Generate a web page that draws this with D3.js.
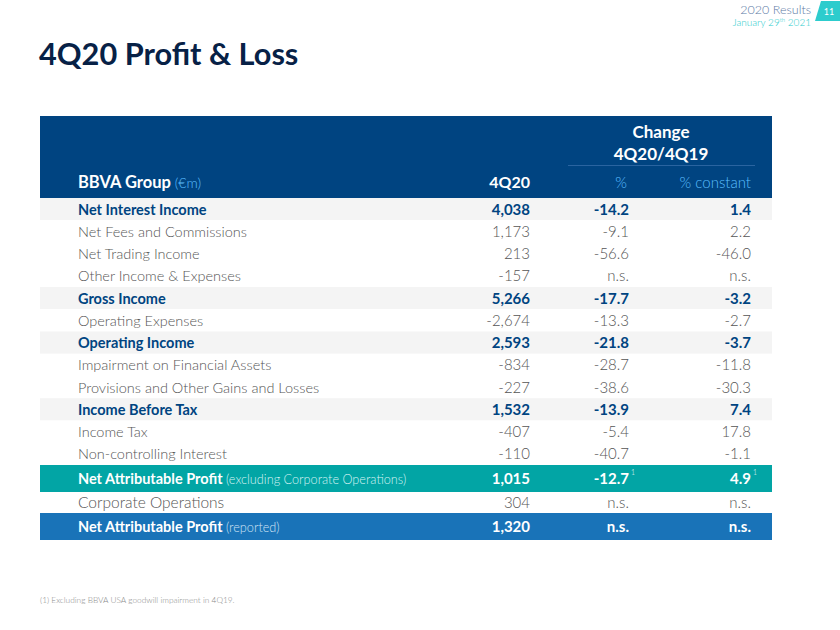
<!DOCTYPE html>
<html><head><meta charset="utf-8">
<script src="https://cdn.jsdelivr.net/npm/d3@7"></script>
<style>
html,body{margin:0;padding:0;background:#fff;}
svg{display:block;font-family:Lato,"Open Sans",sans-serif;}
</style></head>
<body>
<svg id="chart" width="840" height="630"></svg>
<script>
const rowLabels = ["Net Interest Income","Net Fees and Commissions","Net Trading Income","Other Income & Expenses","Gross Income","Operating Expenses","Operating Income","Impairment on Financial Assets","Provisions and Other Gains and Losses","Income Before Tax","Income Tax","Non-controlling Interest","Net Attributable Profit","Corporate Operations","Net Attributable Profit"];
const rowNotes = ["","","","","","","","","","","","","(excluding Corporate Operations)","","(reported)"];
const values4Q20 = ["4,038","1,173","213","-157","5,266","-2,674","2,593","-834","-227","1,532","-407","-110","1,015","304","1,320"];
const pctChange = ["-14.2","-9.1","-56.6","n.s.","-17.7","-13.3","-21.8","-28.7","-38.6","-13.9","-5.4","-40.7","-12.7","n.s.","n.s."];
const pctConstant = ["1.4","2.2","-46.0","n.s.","-3.2","-2.7","-3.7","-11.8","-30.3","7.4","17.8","-1.1","4.9","n.s.","n.s."];
const rowTypes = ["key","plain","plain","plain","key","plain","key","plain","plain","key","plain","plain","teal","plain","blue"];
const footnoteMarks = ["","","","","","","","","","","","","1","",""];
const columnHeaders = ["4Q20","%","% constant"];

const svg = d3.select("#chart");
const navy = "#004481", teal = "#02A5A5", blue = "#1973B8";

// header strip top-right
svg.append("text").attr("x",811).attr("y",14).attr("text-anchor","end")
  .attr("font-size",12.5).attr("fill","#5c7aa5").attr("font-weight",300).text("2020 Results");
const jt = svg.append("text").attr("x",811).attr("y",26).attr("text-anchor","end")
  .attr("font-size",10).attr("fill","#2dcccd").attr("font-weight",300);
jt.append("tspan").text("January 29");
jt.append("tspan").attr("font-size",6).attr("dy",-4).text("th");
jt.append("tspan").attr("dy",4).text(" 2021");
svg.append("path").attr("d","M821,1 L840,1 L840,21 L815,21 Z").attr("fill","#2dcccd");
svg.append("text").attr("x",829).attr("y",15).attr("text-anchor","middle")
  .attr("font-size",9).attr("fill","#fff").text("11");

// title
svg.append("text").attr("x",39).attr("y",65).attr("font-size",30.7).attr("font-weight",700)
  .attr("fill","#072146").text("4Q20 Profit & Loss");

// layout
const tableX0 = 40, tableX1 = 772;
const headTop = 116, headBottom = 198;
const heights = rowTypes.map(t => (t==="teal"||t==="blue") ? 27 : 22.25);
heights[13] = 21;
const tops = [];
let acc = headBottom;
heights.forEach(h => { tops.push(acc); acc += h; });

const colRight = d3.scaleOrdinal().domain(columnHeaders).range([530, 629, 751]);

// header box
svg.append("rect").attr("x",tableX0).attr("y",headTop).attr("width",tableX1-tableX0)
  .attr("height",headBottom-headTop).attr("fill",navy);
svg.append("text").attr("x",661).attr("y",138).attr("text-anchor","middle")
  .attr("font-size",17).attr("font-weight",700).attr("fill","#fff").text("Change");
svg.append("text").attr("x",661).attr("y",160).attr("text-anchor","middle")
  .attr("font-size",17).attr("font-weight",700).attr("fill","#fff").text("4Q20/4Q19");
svg.append("line").attr("x1",568).attr("x2",755).attr("y1",165.5).attr("y2",165.5)
  .attr("stroke","#2a64a0").attr("stroke-width",1);
const bg = svg.append("text").attr("x",78).attr("y",188).attr("fill","#fff");
bg.append("tspan").attr("font-size",16.5).attr("font-weight",700).text("BBVA Group");
bg.append("tspan").attr("font-size",14).attr("font-weight",300).attr("fill","#5bbeff").text(" (€m)");
columnHeaders.forEach((h,i) => {
  const t = svg.append("text").attr("y",188).attr("font-size", i===0?16:15)
    .attr("font-weight", i===0?700:300).attr("fill", i===0?"#fff":"#5bbeff").text(h);
  if (i===1) t.attr("x",621).attr("text-anchor","middle");
  else t.attr("x",colRight(h)).attr("text-anchor","end");
});

// rows
const rows = svg.selectAll("g.row").data(rowLabels.map((l,i)=>({i,l}))).join("g").attr("class","row");
rows.append("rect")
  .attr("x",tableX0).attr("width",tableX1-tableX0)
  .attr("y",d=>tops[d.i]).attr("height",d=>heights[d.i])
  .attr("fill",d=>{const t=rowTypes[d.i]; return t==="key"?"#f4f4f4":t==="teal"?teal:t==="blue"?blue:"#fff";});

function textColor(t){ return t==="key"?navy:(t==="teal"||t==="blue")?"#fff":"#555"; }
function weight(t){ return t==="plain"?300:700; }

rows.each(function(d){
  const g = d3.select(this);
  const t = rowTypes[d.i];
  const yb = tops[d.i] + heights[d.i]/2 + 5.5;
  const fs = d.i===13 ? 15.5 : 14.5;
  const lab = g.append("text").attr("x",78).attr("y",yb).attr("font-size",fs)
    .attr("font-weight",weight(t)).attr("fill",textColor(t));
  lab.append("tspan").text(d.l);
  if (rowNotes[d.i]) lab.append("tspan").attr("font-size",12.7).attr("font-weight",300)
    .attr("fill", t==="teal"?"#d4f2f2":"#cfe3f5").text(" "+rowNotes[d.i]);
  const vals = [values4Q20[d.i], pctChange[d.i], pctConstant[d.i]];
  vals.forEach((v,k)=>{
    g.append("text").attr("x",colRight(columnHeaders[k])).attr("y",yb)
      .attr("text-anchor","end").attr("font-size",15)
      .attr("font-weight",weight(t)).attr("fill",textColor(t)).text(v);
    if (k>0 && footnoteMarks[d.i]) {
      g.append("text").attr("x",colRight(columnHeaders[k])+2).attr("y",yb-9)
        .attr("font-size",7).attr("font-weight",300).attr("fill","#fff").text(footnoteMarks[d.i]);
    }
  });
});

// footnote
svg.append("text").attr("x",40).attr("y",603).attr("font-size",8.3).attr("font-weight",300)
  .attr("fill","#8a8a8a").text("(1) Excluding BBVA USA goodwill impairment in 4Q19.");
</script>
</body></html>
